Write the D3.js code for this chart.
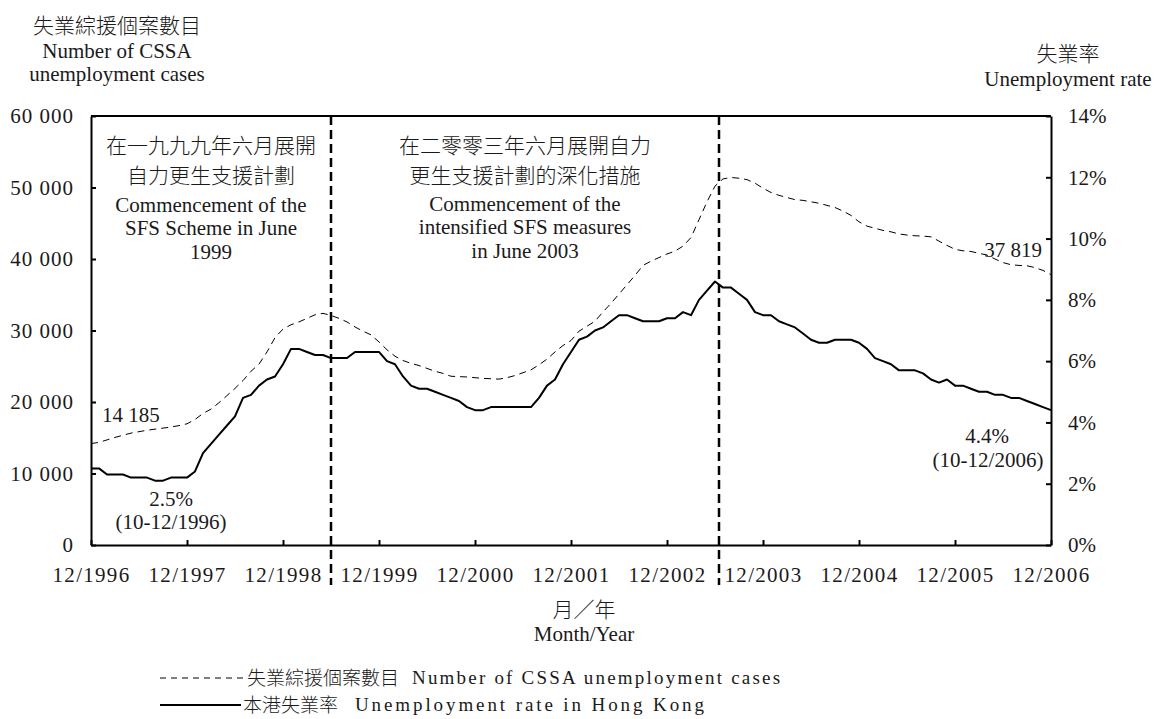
<!DOCTYPE html>
<html>
<head>
<meta charset="utf-8">
<script src="https://cdn.jsdelivr.net/npm/d3@7"></script>
<style>
  body { margin: 0; background: #fff; }
  svg text { font-family: "Liberation Serif", "Noto Sans CJK TC", serif; fill: #1a1a1a; }
  .cjk { font-family: "Noto Sans CJK TC", sans-serif; font-weight: 300; }
</style>
</head>
<body>
<svg id="chart" width="1154" height="719"></svg>
<script>
// months counted from 12/1996 (index 0) to 12/2006 (index 120)
var tickLabels = ["12/1996", "12/1997", "12/1998", "12/1999", "12/2000", "12/2001",
                  "12/2002", "12/2003", "12/2004", "12/2005", "12/2006"];

// number of CSSA unemployment cases, monthly
var cssaCases = [
  14185, 14350, 14700, 15050, 15350, 15650, 15850, 16050, 16200, 16350, 16500, 16700,
  16950, 17550, 18400, 19000, 19900, 20900, 21900, 23000, 24300, 25300, 27000, 29000,
  30200, 30800, 31200, 31700, 32200, 32400, 32100, 31700, 31200, 30500, 29900, 29400,
  28400, 27300, 26400, 25800, 25400, 25100, 24700, 24300, 24000, 23600, 23550, 23500,
  23400, 23300, 23250, 23200, 23400, 23700, 24100, 24500, 25200, 26000, 27000, 27900,
  28600, 29900, 30600, 31300, 32600, 33800, 35100, 36400, 37700, 39100, 39700, 40200,
  40700, 41100, 41800, 43000, 45500, 48000, 50200, 51200, 51400, 51300, 51100, 50600,
  49900, 49300, 48900, 48600, 48300, 48200, 48000, 47800, 47500, 47200, 46700, 46100,
  45200, 44600, 44300, 44000, 43800, 43500, 43350, 43250, 43200, 43100, 42500, 41900,
  41350, 41150, 41050, 40800, 40550, 40000, 39500, 39200, 39100, 39050, 38800, 38400,
  37819
];

// unemployment rate in Hong Kong (%), 3-month moving average
var unempRate = [
  2.5, 2.5, 2.3, 2.3, 2.3, 2.2, 2.2, 2.2, 2.1, 2.1, 2.2, 2.2,
  2.2, 2.4, 3.0, 3.3, 3.6, 3.9, 4.2, 4.8, 4.9, 5.2, 5.4, 5.5,
  5.9, 6.4, 6.4, 6.3, 6.2, 6.2, 6.1, 6.1, 6.1, 6.3, 6.3, 6.3,
  6.3, 6.0, 5.9, 5.5, 5.2, 5.1, 5.1, 5.0, 4.9, 4.8, 4.7, 4.5,
  4.4, 4.4, 4.5, 4.5, 4.5, 4.5, 4.5, 4.5, 4.8, 5.2, 5.4, 5.9,
  6.3, 6.7, 6.8, 7.0, 7.1, 7.3, 7.5, 7.5, 7.4, 7.3, 7.3, 7.3,
  7.4, 7.4, 7.6, 7.5, 8.0, 8.3, 8.6, 8.4, 8.4, 8.2, 8.0, 7.6,
  7.5, 7.5, 7.3, 7.2, 7.1, 6.9, 6.7, 6.6, 6.6, 6.7, 6.7, 6.7,
  6.6, 6.4, 6.1, 6.0, 5.9, 5.7, 5.7, 5.7, 5.6, 5.4, 5.3, 5.4,
  5.2, 5.2, 5.1, 5.0, 5.0, 4.9, 4.9, 4.8, 4.8, 4.7, 4.6, 4.5,
  4.4
];

// months where the SFS scheme / intensified measures started (6/1999, 6/2003)
var markerMonths = [30, 78.5];

var leftTicks = [0, 10000, 20000, 30000, 40000, 50000, 60000];
var rightTicks = [0, 2, 4, 6, 8, 10, 12, 14];

var svg = d3.select('#chart');
var plotL = 91, plotR = 1051, plotT = 116, plotB = 545;

var x = d3.scaleLinear().domain([0, 120]).range([plotL, plotR]);
var yL = d3.scaleLinear().domain([0, 60000]).range([plotB, plotT]);
var yR = d3.scaleLinear().domain([0, 14]).range([plotB, plotT]);

var spaceFmt = d3.formatLocale({decimal: ".", thousands: " ", grouping: [3], currency: ["", ""]}).format(",");

// frame top line
svg.append('line')
    .attr('x1', plotL).attr('x2', plotR)
    .attr('y1', plotT).attr('y2', plotT)
    .attr('stroke', '#000').attr('stroke-width', 2);

var gL = svg.append('g')
    .attr('transform', `translate(${plotL},0)`)
    .call(d3.axisLeft(yL).tickValues(leftTicks).tickSize(-5).tickSizeOuter(0)
          .tickPadding(17).tickFormat(d => spaceFmt(d)));

var gR = svg.append('g')
    .attr('transform', `translate(${plotR},0)`)
    .call(d3.axisRight(yR).tickValues(rightTicks).tickSize(-5).tickSizeOuter(0)
          .tickPadding(17).tickFormat(d => d + '%'));

var gB = svg.append('g')
    .attr('transform', `translate(0,${plotB})`)
    .call(d3.axisBottom(x).tickValues(d3.range(0, 121, 12)).tickSize(-5).tickSizeOuter(0)
          .tickPadding(22).tickFormat((d, i) => tickLabels[i]));

[gL, gR, gB].forEach(function(g) {
  g.selectAll('path, line').attr('stroke', '#000').attr('stroke-width', 2);
  g.selectAll('text').attr('font-size', 21)
    .style('font-family', '"Liberation Serif", serif').attr('fill', '#1a1a1a');
});
gB.selectAll('text').attr('letter-spacing', 1.3);
gL.selectAll('text').attr('letter-spacing', 1);

// vertical dashed markers
svg.selectAll('.marker')
    .data(markerMonths)
    .enter().append('line')
    .attr('class', 'marker')
    .attr('x1', d => x(d)).attr('x2', d => x(d))
    .attr('y1', plotT).attr('y2', 585)
    .attr('stroke', '#000').attr('stroke-width', 2.5)
    .attr('stroke-dasharray', '9,5');

// lines
var cssaLine = d3.line().x((d, i) => x(i)).y(d => yL(d));
var rateLine = d3.line().x((d, i) => x(i)).y(d => yR(d));

svg.append('path')
    .datum(cssaCases)
    .attr('d', cssaLine)
    .attr('fill', 'none')
    .attr('stroke', '#000')
    .attr('stroke-width', 1)
    .attr('stroke-dasharray', '7,5');

svg.append('path')
    .datum(unempRate)
    .attr('d', rateLine)
    .attr('fill', 'none')
    .attr('stroke', '#000')
    .attr('stroke-width', 2)
    .attr('stroke-linejoin', 'round');

// text helper
function label(txt, px, py, anchor, size, cls) {
  return svg.append('text')
      .attr('x', px).attr('y', py)
      .attr('text-anchor', anchor || 'middle')
      .attr('font-size', size || 21)
      .attr('class', cls || null)
      .text(txt);
}

// axis titles
label('失業綜援個案數目', 117, 33, 'middle', 21, 'cjk');
label('Number of CSSA', 117, 58);
label('unemployment cases', 117, 81);
label('失業率', 1068, 61, 'middle', 21, 'cjk');
label('Unemployment rate', 1068, 86);
label('月／年', 584, 617, 'middle', 21, 'cjk');
label('Month/Year', 584, 641);

// annotation boxes
var note1 = [['在一九九九年六月展開', 'cjk'], ['自力更生支援計劃', 'cjk'],
             ['Commencement of the'], ['SFS Scheme in June'], ['1999']];
var note2 = [['在二零零三年六月展開自力', 'cjk'], ['更生支援計劃的深化措施', 'cjk'],
             ['Commencement of the'], ['intensified SFS measures'], ['in June 2003']];
var noteY = [153, 183, 212, 235, 259];
note1.forEach((d, i) => label(d[0], 211, noteY[i], 'middle', 21, d[1]));
note2.forEach((d, i) => label(d[0], 525, noteY[i] - (i > 1 ? 1 : 0), 'middle', 21, d[1]));

// value labels
label(spaceFmt(cssaCases[0]), 102, 422, 'start');
label(unempRate[0].toFixed(1) + '%', 171, 506);
label('(10-12/1996)', 171, 529);
label(spaceFmt(cssaCases[cssaCases.length - 1]), 1042, 257, 'end');
label(unempRate[unempRate.length - 1].toFixed(1) + '%', 987, 443);
label('(10-12/2006)', 988, 467);

// legend
svg.append('line')
    .attr('x1', 160).attr('x2', 244).attr('y1', 678).attr('y2', 678)
    .attr('stroke', '#000').attr('stroke-width', 1).attr('stroke-dasharray', '6,5');
svg.append('line')
    .attr('x1', 160).attr('x2', 241).attr('y1', 705).attr('y2', 705)
    .attr('stroke', '#000').attr('stroke-width', 2);
label('失業綜援個案數目', 247, 685, 'start', 19, 'cjk');
label('Number of CSSA unemployment cases', 412, 684, 'start', 19).attr('letter-spacing', 2.2);
label('本港失業率', 243, 712, 'start', 19, 'cjk');
label('Unemployment rate in Hong Kong', 355, 711, 'start', 19).attr('letter-spacing', 2.9);
</script>
</body>
</html>
